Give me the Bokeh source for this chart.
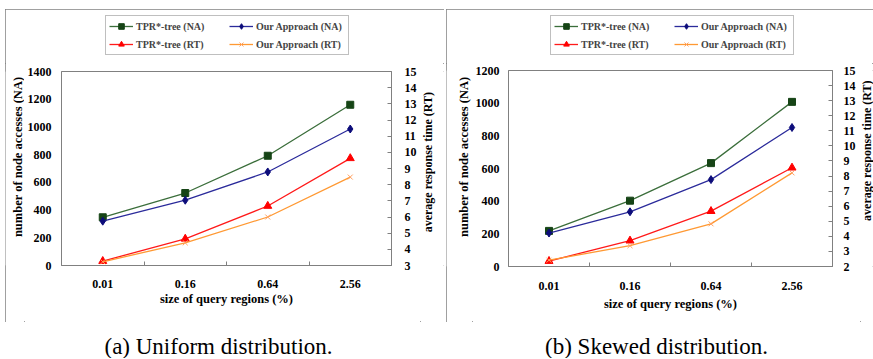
import math
from bokeh.plotting import figure
from bokeh.models import Range1d, LinearAxis, FixedTicker, Legend, LegendItem, Label
from bokeh.core.properties import value
from bokeh.layouts import row, column
from bokeh.embed import file_html
from bokeh.resources import INLINE

# ---------------- data ----------------
sizes = ["0.01", "0.16", "0.64", "2.56"]

uni_tpr_na = [348, 523, 792, 1160]
uni_our_na = [320, 471, 675, 985]
uni_tpr_rt = [3.27, 4.65, 6.68, 9.63]
uni_our_rt = [3.23, 4.40, 6.00, 8.47]

skw_tpr_na = [218, 403, 633, 1008]
skw_our_na = [205, 335, 532, 851]
skw_tpr_rt = [2.36, 3.71, 5.67, 8.55]
skw_our_rt = [2.42, 3.38, 4.83, 8.21]

uni_na_ticks = [0, 200, 400, 600, 800, 1000, 1200, 1400]
uni_rt_ticks = [3, 4, 5, 6, 7, 8, 9, 10, 11, 12, 13, 14, 15]
skw_na_ticks = [0, 200, 400, 600, 800, 1000, 1200]
skw_rt_ticks = [2, 3, 4, 5, 6, 7, 8, 9, 10, 11, 12, 13, 14, 15]

legend_labels = ["TPR*-tree (NA)", "Our Approach (NA)", "TPR*-tree (RT)", "Our Approach (RT)"]
captions = ["(a) Uniform distribution.", "(b) Skewed distribution."]
x_label = "size of query regions (%)"
na_label = "number of node accesses (NA)"
rt_label = "average response time (RT)"

FONT = "'Liberation Serif', 'Times New Roman', serif"
GRAY = "#808080"

STYLES = [
    dict(line_color="#3b6e3b", marker="square", size=7, fill_color="#164416", mline="#164416", lw=1),
    dict(line_color="#2b2b9b", marker="diamond", size=8, fill_color="#0c0c7a", mline="#0c0c7a", lw=1),
    dict(line_color="#ff1a1a", marker="triangle", size=8, fill_color="#ff0000", mline="#ff0000", lw=1),
    dict(line_color="#ff9933", marker="x", size=7, fill_color=None, mline="#ffa060", lw=1),
]


def blank(width, height, xr, yr, **kw):
    f = figure(width=width, height=height, x_range=xr, y_range=yr,
               output_backend="svg", toolbar_location=None,
               x_axis_location=None, y_axis_location=None, **kw)
    f.outline_line_color = None
    f.grid.visible = False
    f.border_fill_color = "white"
    f.background_fill_color = "white"
    return f


def style_axis(ax):
    ax.axis_line_color = GRAY
    ax.major_tick_line_color = GRAY
    ax.minor_tick_line_color = GRAY
    ax.major_label_text_font = FONT
    ax.major_label_text_font_style = "bold"
    ax.major_label_text_font_size = "12px"
    ax.major_label_text_color = "black"
    ax.axis_label_text_font = FONT
    ax.axis_label_text_font_style = "bold"
    ax.axis_label_text_font_size = "12.5px"
    ax.axis_label_text_color = "black"


def draw_series(p, xs, ys, st, **kw):
    l = p.line(xs, ys, line_color=st["line_color"], line_width=1.3, **kw)
    s = p.scatter(xs, ys, marker=st["marker"], size=st["size"], fill_color=st["fill_color"],
                  line_color=st["mline"], line_width=st["lw"], **kw)
    return l, s


def legend_fig(width, height, left, top, series):
    fw, fh = 244, 40
    # the legend frame shows no data: the series lie outside its ranges
    f = blank(width, height, Range1d(0, 1), Range1d(-2, -1),
              min_border_left=left, min_border_right=width - left - fw,
              min_border_top=top, min_border_bottom=height - top - fh)
    xs = [i + 0.5 for i in range(len(sizes))]
    items = []
    for lab, st, ys in zip(legend_labels, STYLES, series):
        l, s = draw_series(f, xs, ys, st)
        items.append(LegendItem(label=lab, renderers=[l, s]))
    leg = Legend(items=items, location="top_left", orientation="horizontal", ncols=2,
                 padding=3, spacing=4, margin=0, glyph_width=24, glyph_height=14,
                 label_height=14, label_width=89, label_standoff=3,
                 label_text_font=FONT, label_text_font_style="bold", label_text_font_size="10px",
                 border_line_color=GRAY, border_line_width=1, background_fill_color="white",
                 background_fill_alpha=1.0)
    f.add_layout(leg, "center")
    return f


def vlabel_fig(text, width, height, cx, cy, size):
    f = blank(width, height, Range1d(0, width), Range1d(0, height), min_border=0)
    f.text(x=[cx], y=[cy], text=[text], angle=math.pi / 2, text_align="center",
           text_baseline="middle", text_font=value(FONT), text_font_style="bold",
           text_font_size=size, text_color="black")
    return f


def main_fig(tpr_na, our_na, tpr_rt, our_rt, na_ticks, rt_ticks, width, bl, fw, bt, fh, height,
             left_standoff, right_standoff, bottom_standoffs):
    n = len(sizes)
    xs = [i + 0.5 for i in range(n)]
    p = figure(width=width, height=height,
               x_range=Range1d(0, n), y_range=Range1d(na_ticks[0], na_ticks[-1]),
               output_backend="svg", toolbar_location=None,
               min_border_left=bl, min_border_right=width - bl - fw,
               min_border_top=bt, min_border_bottom=height - bt - fh)
    p.xgrid.visible = False
    p.ygrid.visible = False
    p.outline_line_color = GRAY
    p.background_fill_color = "white"
    p.border_fill_color = "white"

    xa = p.xaxis[0]
    style_axis(xa)
    xa.ticker = FixedTicker(ticks=xs, minor_ticks=[i for i in range(1, n)])
    xa.major_label_overrides = {x: s for x, s in zip(xs, sizes)}
    xa.major_tick_in = 0
    xa.major_tick_out = 0
    xa.minor_tick_in = 4
    xa.minor_tick_out = 0
    xa.axis_label = x_label
    xa.major_label_standoff = bottom_standoffs[0]
    xa.axis_label_standoff = bottom_standoffs[1]

    ya = p.yaxis[0]
    style_axis(ya)
    ya.ticker = FixedTicker(ticks=na_ticks)
    ya.major_tick_in = 0
    ya.major_tick_out = 0
    ya.minor_tick_in = 0
    ya.minor_tick_out = 0
    ya.major_label_standoff = left_standoff

    p.extra_y_ranges = {"rt": Range1d(rt_ticks[0], rt_ticks[-1])}
    ra = LinearAxis(y_range_name="rt", ticker=FixedTicker(ticks=rt_ticks))
    style_axis(ra)
    ra.major_tick_in = 4
    ra.major_tick_out = 0
    ra.minor_tick_in = 0
    ra.minor_tick_out = 0
    ra.major_label_standoff = right_standoff
    p.add_layout(ra, "right")

    draw_series(p, xs, tpr_na, STYLES[0])
    draw_series(p, xs, our_na, STYLES[1])
    draw_series(p, xs, tpr_rt, STYLES[2], y_range_name="rt")
    draw_series(p, xs, our_rt, STYLES[3], y_range_name="rt")
    return p


def caption(text, width, cx, cy, height):
    c = blank(width, height, Range1d(0, width), Range1d(0, height), min_border=0)
    c.add_layout(Label(x=cx, y=cy, text=text, text_align="center", text_baseline="middle",
                       text_font=FONT, text_font_size="23px", text_color="black"))
    return c


OUTLINE = {"outline": "1px solid " + GRAY, "outline-offset": "-1px"}

# panel (a)
la = legend_fig(439, 54, 100, 6, [uni_tpr_na, uni_our_na, uni_tpr_rt, uni_our_rt])
na_lab_a = vlabel_fig(na_label, 19, 259, 12, 145, "12.5px")
ma = main_fig(uni_tpr_na, uni_our_na, uni_tpr_rt, uni_our_rt, uni_na_ticks, uni_rt_ticks,
              width=396, bl=35, fw=332, bt=8, fh=194, height=259,
              left_standoff=10, right_standoff=13, bottom_standoffs=(14, 1))
rt_lab_a = vlabel_fig(rt_label, 24, 259, 7, 138, "12px")
panel_a = column(la, row(na_lab_a, ma, rt_lab_a, spacing=0), spacing=0, styles=OUTLINE)

# panel (b)
lb = legend_fig(427, 54, 104, 6, [skw_tpr_na, skw_our_na, skw_tpr_rt, skw_our_rt])
na_lab_b = vlabel_fig(na_label, 26, 259, 17, 145, "12.5px")
mb = main_fig(skw_tpr_na, skw_our_na, skw_tpr_rt, skw_our_rt, skw_na_ticks, skw_rt_ticks,
              width=388, bl=34, fw=326, bt=7, fh=196, height=259,
              left_standoff=9, right_standoff=11, bottom_standoffs=(15, 4))
rt_lab_b = vlabel_fig(rt_label, 13, 259, 6.5, 153, "12px")
panel_b = column(lb, row(na_lab_b, mb, rt_lab_b, spacing=0), spacing=0, styles=OUTLINE)

ca = caption(captions[0], 439, 213, 12.5, 36)
cb = caption(captions[1], 427, 210, 12.5, 36)

layout = column(row(panel_a, panel_b, spacing=2), row(ca, cb, spacing=2), spacing=0,
                margin=(9, 0, 0, 5))

open("out.html", "w").write(file_html(layout, INLINE))
